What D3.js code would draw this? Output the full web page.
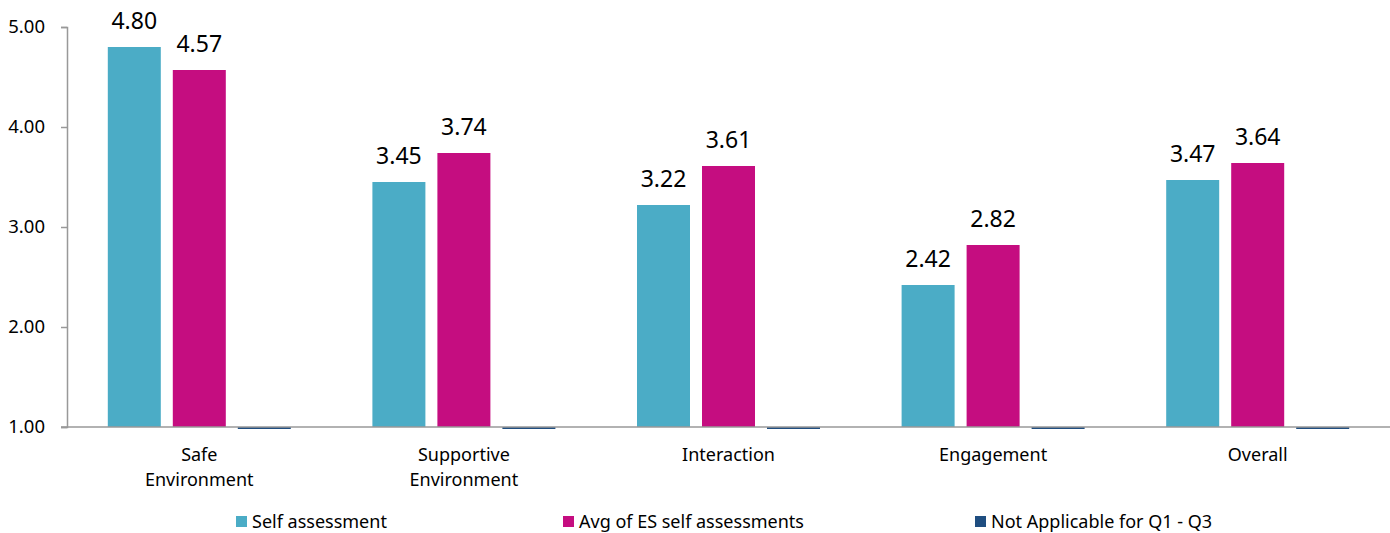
<!DOCTYPE html>
<html>
<head>
<meta charset="utf-8">
<script src="https://cdn.jsdelivr.net/npm/d3@7"></script>
<style>
  body { margin: 0; background: #fff; }
  text { font-family: "Noto Sans", "Open Sans", sans-serif; fill: #000; }
</style>
</head>
<body>
<div id="chart"></div>
<script>
var categories = [["Safe", "Environment"], ["Supportive", "Environment"], ["Interaction"], ["Engagement"], ["Overall"]];
var seriesNames = ["Self assessment", "Avg of ES self assessments", "Not Applicable for Q1 - Q3"];
var selfVals = [4.80, 3.45, 3.22, 2.42, 3.47];
var avgVals = [4.57, 3.74, 3.61, 2.82, 3.64];
var naVals = [0.98, 0.98, 0.98, 0.98, 0.98];
var yTicks = [1, 2, 3, 4, 5];
var colors = ["#4bacc6", "#c50d80", "#1f4e80"];

var width = 1390, height = 533;
var m = {left: 67, right: 0, top: 27, bottom: 106};

var svg = d3.select('#chart').append('svg')
    .attr('width', width)
    .attr('height', height);

var x = d3.scaleBand()
    .domain(d3.range(categories.length))
    .range([m.left, width - m.right]);
var y = d3.scaleLinear()
    .domain([1, 5])
    .range([height - m.bottom, m.top]);

var series = [selfVals, avgVals, naVals];
var barW = 53, gap = 12;
var groupW = barW * 3 + gap * 2;

// bars
series.forEach(function (vals, si) {
    svg.append('g').selectAll('rect')
        .data(vals)
        .enter().append('rect')
        .attr('x', function (d, i) { return x(i) + (x.bandwidth() - groupW) / 2 + si * (barW + gap); })
        .attr('y', function (d) { return Math.min(y(d), y(1)); })
        .attr('width', barW)
        .attr('height', function (d) { return Math.abs(y(1) - y(d)); })
        .style('fill', colors[si]);
});

// value labels
[selfVals, avgVals].forEach(function (vals, si) {
    svg.append('g').selectAll('text')
        .data(vals)
        .enter().append('text')
        .attr('x', function (d, i) { return x(i) + (x.bandwidth() - groupW) / 2 + si * (barW + gap) + barW / 2; })
        .attr('y', function (d) { return y(d) - 18; })
        .attr('text-anchor', 'middle')
        .style('font-size', '23px')
        .text(function (d) { return d.toFixed(2); });
});

// y axis
var yAxis = svg.append('g')
    .attr('transform', 'translate(' + m.left + ',0)')
    .call(d3.axisLeft(y).tickValues(yTicks).tickSize(6).tickPadding(16).tickFormat(d3.format('.2f')));
yAxis.select('.domain').attr('stroke', '#999').attr('stroke-width', 1.5);
yAxis.selectAll('line').attr('stroke', '#999').attr('stroke-width', 1.5);
yAxis.selectAll('text').style('font-size', '18.5px');

// x baseline
svg.append('line')
    .attr('x1', m.left - 6).attr('x2', width)
    .attr('y1', y(1)).attr('y2', y(1))
    .attr('stroke', '#999').attr('stroke-width', 1.5);

// category labels
var cat = svg.append('g').selectAll('text')
    .data(categories)
    .enter().append('text')
    .attr('text-anchor', 'middle')
    .attr('x', function (d, i) { return x(i) + x.bandwidth() / 2; })
    .attr('y', y(1) + 34)
    .style('font-size', '18px');
cat.selectAll('tspan')
    .data(function (d) { return d; })
    .enter().append('tspan')
    .attr('x', function () { return d3.select(this.parentNode).attr('x'); })
    .attr('dy', function (d, i) { return i ? 25 : 0; })
    .text(function (d) { return d; });

// legend
var legX = [236, 563, 975];
var leg = svg.append('g').selectAll('g')
    .data(seriesNames)
    .enter().append('g')
    .attr('transform', function (d, i) { return 'translate(' + legX[i] + ',516)'; });
leg.append('rect').attr('width', 11).attr('height', 11)
    .style('fill', function (d, i) { return colors[i]; });
leg.append('text').attr('x', 16).attr('y', 12)
    .style('font-size', '18px')
    .text(function (d) { return d; });
</script>
</body>
</html>
